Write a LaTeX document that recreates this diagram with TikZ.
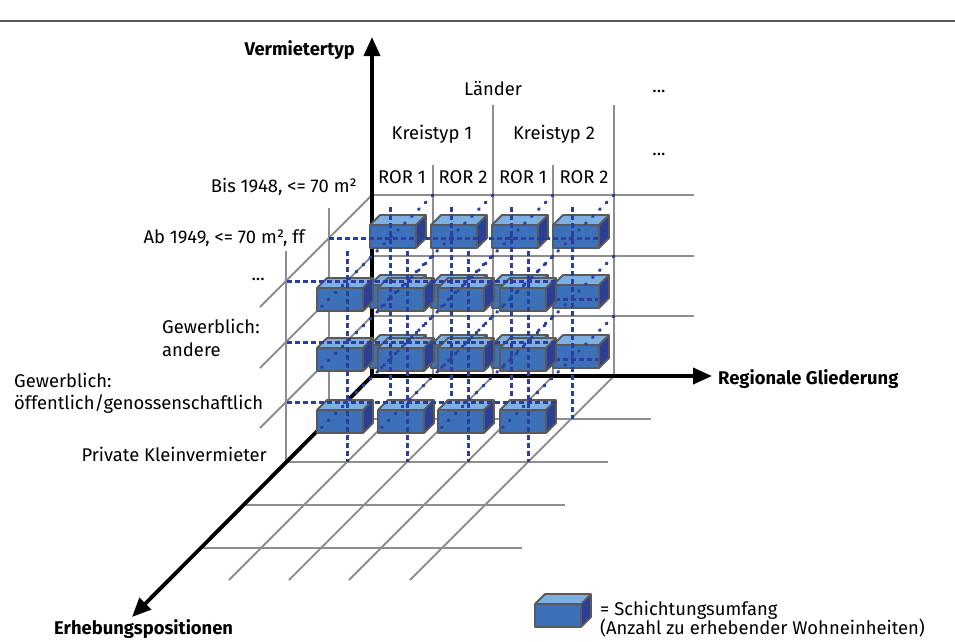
\documentclass[tikz,border=0pt]{standalone}
\usepackage{fontspec}
\setmainfont{Fira Sans}
\usetikzlibrary{arrows.meta}
\definecolor{gridgray}{HTML}{8E8E8E}
\definecolor{cubefront}{HTML}{3C70B8}
\definecolor{cubetop}{HTML}{7DAFE0}
\definecolor{cubeside}{HTML}{2A3F96}
\definecolor{cubeedge}{HTML}{5A5A5A}
\definecolor{markblue}{HTML}{2B3FA0}
\definecolor{rulegray}{HTML}{5A5A5A}
\tikzset{
  gridline/.style={draw=gridgray, line width=2pt},
  axisline/.style={draw=black, line width=3.8pt, -{Triangle[length=19pt,width=16pt]}},
  dashmark/.style={draw=markblue, line width=3pt, dash pattern=on 5pt off 3pt},
  dotmark/.style={draw=markblue, line width=3.2pt, line cap=round, dash pattern=on 1pt off 8.8pt},
  lbl/.style={inner sep=0pt, anchor=base},
  lblw/.style={inner sep=0pt, anchor=base west},
  lble/.style={inner sep=0pt, anchor=base east},
  boldlbl/.style={font=\fontsize{18.4}{22}\selectfont\bfseries},
  blockcube/.pic={
    \fill[cubefront] (0,0) rectangle (46,23);
    \fill[cubetop] (0,0) -- (10,-10) -- (56,-10) -- (46,0) -- cycle;
    \fill[cubeside] (46,0) -- (56,-10) -- (56,13) -- (46,23) -- cycle;
    \draw[cubeedge, line width=1.8pt, line join=round]
      (0,0) rectangle (46,23)
      (0,0) -- (10,-10) -- (56,-10) -- (56,13) -- (46,23)
      (46,0) -- (56,-10);
  }
}
\begin{document}
\begin{tikzpicture}[x=1pt,y=-1pt,font=\fontsize{18.4}{22}\selectfont]
\useasboundingbox (0,0) rectangle (955,641);
% top rule
\draw[draw=rulegray, line width=2pt] (0,21) -- (955,21);
% named axis points
\coordinate (O) at (372,376);
\coordinate (vtip) at (372,37);
\coordinate (htip) at (712,376);
\coordinate (dtip) at (132,617);
% ---- grid ----
% back wall verticals
\draw[gridline] (433,165) -- (433,376);
\draw[gridline] (493,105) -- (493,376);
\draw[gridline] (553,165) -- (553,376);
\draw[gridline] (614,105) -- (614,376);
% back wall horizontals
\foreach \r in {195,256,316} \draw[gridline] (372,\r) -- (694,\r);
% left wall diagonals
\foreach \r in {195,256,316} \draw[gridline] (372,\r) -- (260,\r+112);
% left wall verticals
\draw[gridline] (329,208) -- (329,419);
\draw[gridline] (286,251) -- (286,462);
% floor diagonals
\foreach \c in {433,493,553,614} \draw[gridline] (\c,376) -- (\c-204,580);
% floor horizontals
\foreach \d in {1,2,3,4} \draw[gridline] (372-43*\d,376+43*\d) -- (694-43*\d,376+43*\d);
% ---- axes ----
\draw[axisline] (O) -- (vtip);
\draw[axisline] (O) -- (htip);
\draw[axisline] (O) -- (dtip);
% ---- back cubes (depth 1) ----
\foreach \y in {225,285,345}
  \foreach \x in {370,431,492,553}
    \pic at (\x,\y) {blockcube};
% depth-1 horizontal marks
\draw[dashmark] (329,238) -- (598,238);
\draw[dashmark] (555,299) -- (598,299);
\draw[dashmark] (555,359) -- (598,359);
% ---- front cubes rows B, C ----
\foreach \y in {288,348}
  \foreach \x in {317,378,438,500}
    \pic at (\x,\y) {blockcube};
% depth-1 verticals
\foreach \x in {390,451,511,572} \draw[dashmark] (\x,207) -- (\x,419);
% ---- front cubes row D ----
\foreach \x in {317,378,438,500}
  \pic at (\x,410) {blockcube};
% depth-2 marks
\foreach \y in {281,342,402} \draw[dashmark] (287,\y) -- (557,\y);
\foreach \x in {347,407,468,528} \draw[dashmark] (\x,251) -- (\x,462);
% dotted diagonals
\foreach \c in {433,493,553,614}
  \foreach \r in {195,256,316}
    \draw[dotmark] (\c,\r) -- (\c-116,\r+116);
% ---- labels ----
\node[lble, boldlbl] (lvt) at (355,55) {Vermietertyp};
\node[lblw, boldlbl] (lrg) at (718,384) {Regionale Gliederung};
\node[lblw, boldlbl] (lep) at (54,634) {Erhebungspositionen};
\node[lbl] (llaender) at (493,95) {Länder};
\node[lbl] (ldots1) at (659,92) {...};
\node[lbl] (ldots2) at (659,155) {...};
\node[lbl] (lk1) at (432,139) {Kreistyp 1};
\node[lbl] (lk2) at (554,139) {Kreistyp 2};
\node[lbl] (lr1) at (402,183) {ROR 1};
\node[lbl] (lr2) at (463,183) {ROR 2};
\node[lbl] (lr3) at (523,183) {ROR 1};
\node[lbl] (lr4) at (584,183) {ROR 2};
\node[lble] (lbis) at (357,192) {Bis 1948, <= 70 m²};
\node[lble] (lab) at (305,243) {Ab 1949, <= 70 m², ff};
\node[lble] (ldots3) at (265,280) {...};
\node[lblw] (lga1) at (162,333) {Gewerblich:};
\node[lblw] (lga2) at (162,356) {andere};
\node[lblw] (lgo1) at (14,387) {Gewerblich:};
\node[lblw] (lgo2) at (14,409) {öffentlich/genossenschaftlich};
\node[lble] (lpk) at (267,461) {Private Kleinvermieter};
% ---- legend ----
\pic at (535,604) {blockcube};
\node[lblw] (leg1) at (600,615) {= Schichtungsumfang};
\node[lblw] (leg2) at (600,634) {(Anzahl zu erhebender Wohneinheiten)};
\end{tikzpicture}
\end{document}
